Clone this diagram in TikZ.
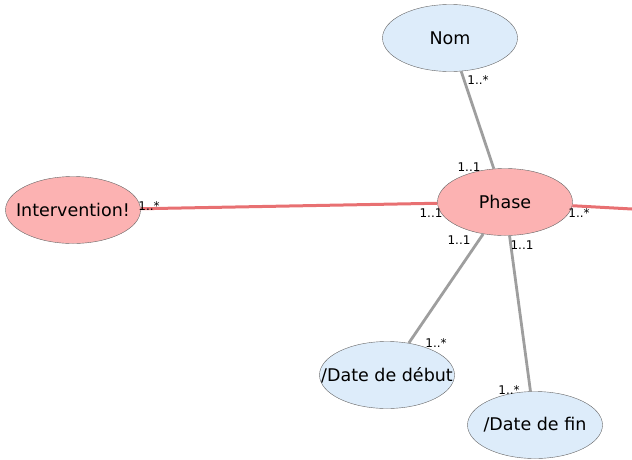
\documentclass[tikz,border=0pt]{standalone}
\usepackage{fontspec}
\setmainfont{DejaVu Sans}
\usetikzlibrary{shapes.geometric}

\definecolor{attrfill}{RGB}{221,236,250}
\definecolor{classfill}{RGB}{252,178,178}
\definecolor{redline}{RGB}{232,112,114}
\definecolor{grayline}{RGB}{158,158,158}

\tikzset{
	ent/.style={ellipse, draw=gray!80!black, thin, minimum width=135pt, minimum height=67pt, inner sep=0pt},
	attr/.style={ent, fill=attrfill},
	cls/.style={ent, fill=classfill},
	assoc/.style={grayline, line width=2.8pt},
	link/.style={redline, line width=3pt},
	mult/.style={font=\fontsize{12}{13}\selectfont, inner sep=0pt}
}

\begin{document}
\begin{tikzpicture}[x=1pt,y=-1pt,font=\fontsize{17.5}{19}\selectfont]
		\useasboundingbox (0,0) rectangle (632,459);
		
		% Klassen
		\node[cls, label={center:Phase}] (phase) at (505,202) {};
		\node[cls, label={center:Intervention!}] (interv) at (73,210) {};
		
		% Attribute
		\node[attr, label={center:Nom}] (nom) at (450,38) {};
		\node[attr, label={center:/Date de début}] (debut) at (387,375) {};
		\node[attr, label={center:/Date de fin}] (fin) at (535,425) {};
		\coordinate (rechts) at (632,209);
		
		% Linien
		\draw[assoc] (nom) -- (phase);
		\draw[assoc] (phase) -- (debut);
		\draw[assoc] (phase) -- (fin);
		\draw[link] (interv) -- (phase);
		\draw[link] (phase) -- (rechts);
		
		% Multiplizitaeten
		\node[mult] (m1) at (478,80) {1..*};
		\node[mult] (m2) at (469,167) {1..1};
		\node[mult] (m3) at (149,206) {1..*};
		\node[mult] (m4) at (431,213) {1..1};
		\node[mult] (m5) at (579,213) {1..*};
		\node[mult] (m6) at (459,240) {1..1};
		\node[mult] (m7) at (522,245) {1..1};
		\node[mult] (m8) at (436,343) {1..*};
		\node[mult] (m9) at (509,390) {1..*};
	\end{tikzpicture}
\end{document}
